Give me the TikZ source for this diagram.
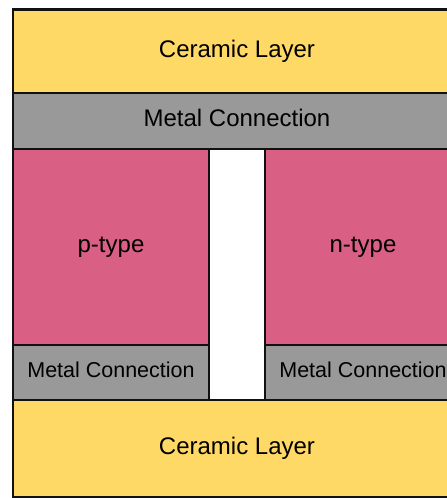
\documentclass[tikz,border=0pt]{standalone}
\usepackage{fontspec}
\setmainfont{Liberation Sans}
\definecolor{ceram}{HTML}{FFD966}
\definecolor{metal}{HTML}{999999}
\definecolor{semi}{HTML}{DA5F85}
\definecolor{edge}{HTML}{111111}
\begin{document}
\begin{tikzpicture}[x=1pt,y=-1pt,
  layer/.style={draw=edge, line width=2.2pt, rectangle, inner sep=0pt, outer sep=0pt,
    text=black, font=\fontsize{24}{28}\selectfont, text height=17pt, text depth=6pt},
  smalllayer/.style={layer, font=\fontsize{21.5}{25}\selectfont, text height=15.5pt, text depth=5.5pt}]
\useasboundingbox (0,0) rectangle (447,498);
\clip (0,0) rectangle (447,498);
\node[layer, fill=ceram, minimum width=448pt, minimum height=84pt] (ceramTop) at (237,51.5) {Ceramic Layer};
\node[layer, fill=metal, minimum width=448pt, minimum height=56pt] (metalTop) at (237,121) {Metal Connection};
\node[layer, fill=semi, minimum width=196pt, minimum height=196pt] (ptype) at (111,247) {p-type};
\node[layer, fill=semi, minimum width=196pt, minimum height=196pt] (ntype) at (363,247) {n-type};
\node[smalllayer, fill=metal, minimum width=196pt, minimum height=55pt] (metalL) at (111,372.5) {Metal Connection};
\node[smalllayer, fill=metal, minimum width=196pt, minimum height=55pt] (metalR) at (363,372.5) {Metal Connection};
\node[layer, fill=ceram, minimum width=448pt, minimum height=97pt] (ceramBot) at (237,448.5) {Ceramic Layer};
\end{tikzpicture}
\end{document}
